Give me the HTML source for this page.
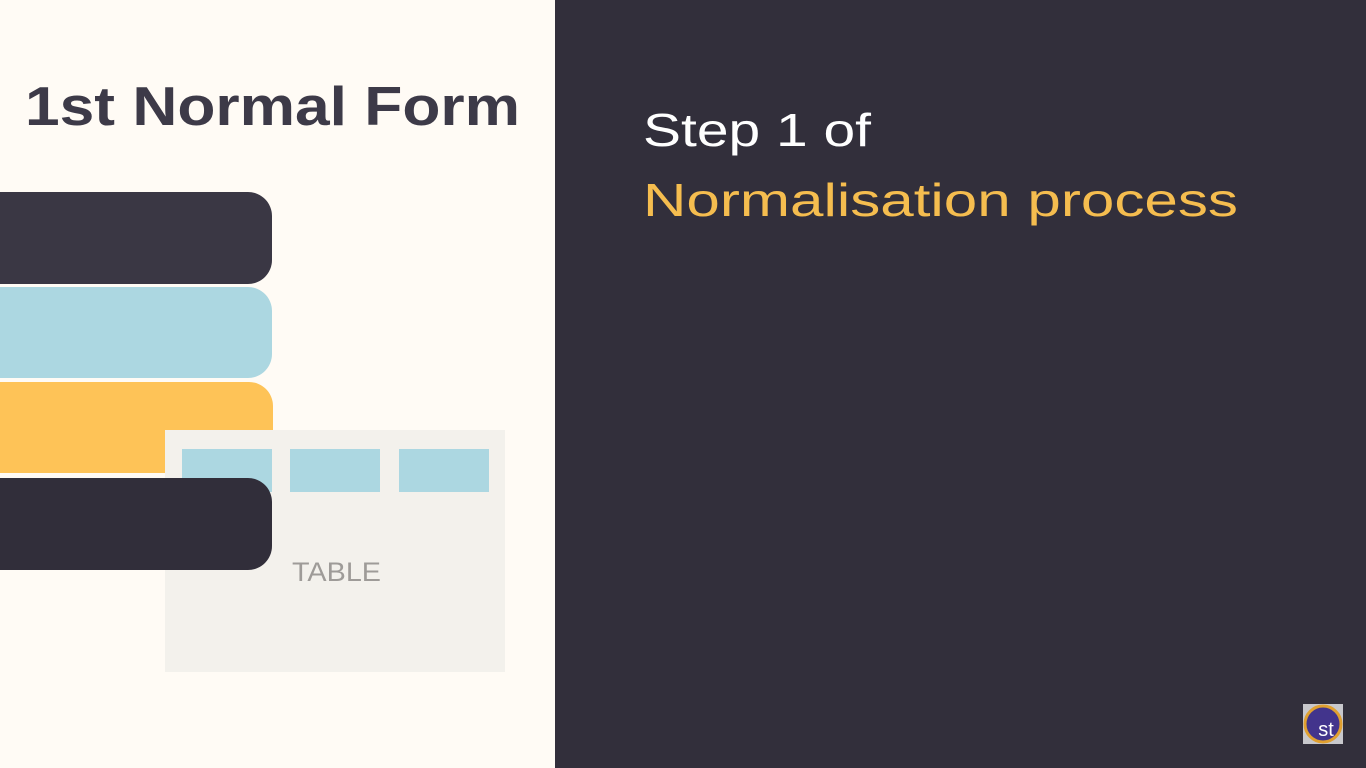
<!DOCTYPE html>
<html><head><meta charset="utf-8"><style>
html,body{margin:0;padding:0;width:1366px;height:768px;overflow:hidden;background:#322f3b}
svg{display:block}
</style></head><body>
<svg width="1366" height="768" viewBox="0 0 1366 768">
  <rect x="0" y="0" width="555" height="768" fill="#fffbf5"/>
  <rect x="555" y="0" width="811" height="768" fill="#322f3b"/>
  <text x="25" y="125" font-family="Liberation Sans, sans-serif" font-weight="bold" font-size="55" fill="#3d3a48" textLength="495" lengthAdjust="spacingAndGlyphs">1st Normal Form</text>
  <rect x="-40" y="192" width="312" height="92" rx="24" fill="#3a3744"/>
  <rect x="-40" y="287" width="312" height="91" rx="24" fill="#acd7e1"/>
  <rect x="-40" y="382" width="313" height="91" rx="24" fill="#fec357"/>
  <rect x="165" y="430" width="340" height="242" fill="#f3f1ec"/>
  <rect x="182" y="449" width="90" height="43" fill="#acd7e1"/>
  <rect x="290" y="449" width="90" height="43" fill="#acd7e1"/>
  <rect x="399" y="449" width="90" height="43" fill="#acd7e1"/>
  <rect x="-40" y="478" width="312" height="92" rx="24" fill="#312e3a"/>
  <text x="292" y="581" font-family="Liberation Sans, sans-serif" font-size="27" fill="#9e9b98" textLength="89" lengthAdjust="spacingAndGlyphs">TABLE</text>
  <text x="643" y="146" font-family="Liberation Sans, sans-serif" font-size="46" fill="#ffffff" textLength="228" lengthAdjust="spacingAndGlyphs">Step 1 of</text>
  <text x="643" y="216" font-family="Liberation Sans, sans-serif" font-size="46" fill="#f5bd4f" textLength="595" lengthAdjust="spacingAndGlyphs">Normalisation process</text>
  <g>
    <rect x="1303" y="704" width="40" height="40" fill="#c8c8cc"/>
    <circle cx="1323" cy="724" r="18" fill="#42348c" stroke="#e0a030" stroke-width="3"/>
    <text x="1326" y="736" text-anchor="middle" font-family="Liberation Sans, sans-serif" font-size="20" fill="#ffffff">st</text>
  </g>
</svg>
</body></html>
